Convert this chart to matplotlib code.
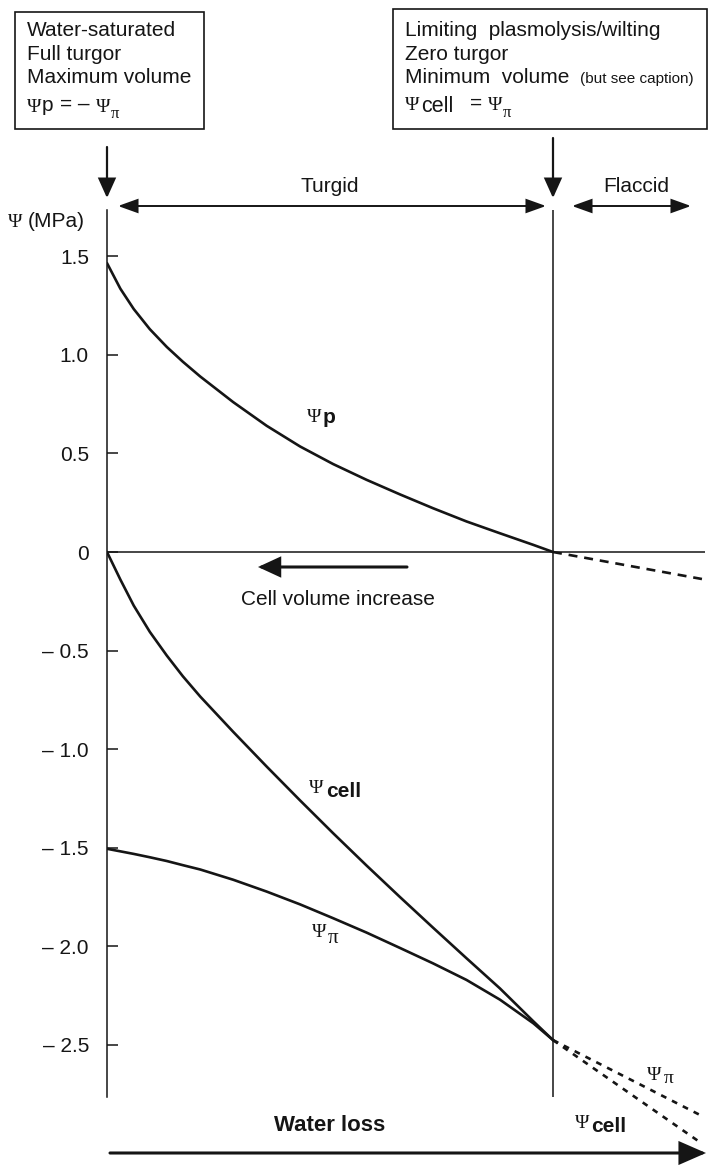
import matplotlib
matplotlib.use("Agg")
import matplotlib.pyplot as plt
import matplotlib.transforms as mtransforms
from matplotlib.patches import Rectangle, FancyArrowPatch

plt.rcParams['font.family'] = ['Liberation Sans', 'DejaVu Sans']

# ---------------- data (relative water loss, 0 = full turgor, 1 = zero turgor) -----
x_turgid = [0.0, 0.03, 0.06, 0.096, 0.134, 0.17, 0.209, 0.283, 0.358, 0.433, 0.507,
            0.582, 0.657, 0.731, 0.806, 0.881, 0.956, 1.0]
psi_p = [1.465, 1.335, 1.232, 1.13, 1.04, 0.965, 0.89, 0.76, 0.64, 0.535, 0.446,
         0.366, 0.292, 0.222, 0.155, 0.095, 0.036, 0.0]
psi_cell = [0.0, -0.14, -0.272, -0.405, -0.525, -0.63, -0.733, -0.912, -1.088, -1.26,
            -1.426, -1.59, -1.75, -1.905, -2.06, -2.213, -2.38, -2.475]
psi_pi = [-1.505, -1.518, -1.531, -1.548, -1.567, -1.588, -1.61, -1.662, -1.722, -1.787,
          -1.857, -1.93, -2.008, -2.086, -2.17, -2.27, -2.39, -2.475]

x_flaccid = [1.0, 1.334]
psi_p_ext = [0.0, -0.137]
psi_pi_ext = [-2.475, -2.86]
psi_cell_ext = [-2.475, -3.0]

yticks = [1.5, 1.0, 0.5, 0.0, -0.5, -1.0, -1.5, -2.0, -2.5]
ytick_labels = ['1.5', '1.0', '0.5', '0', '\u2013 0.5', '\u2013 1.0', '\u2013 1.5',
                '\u2013 2.0', '\u2013 2.5']

# ---------------- figure ----------------
W, H = 711, 1167
fig = plt.figure(figsize=(W / 100, H / 100), dpi=100)
fig.patch.set_facecolor('white')
T = mtransforms.Affine2D().scale(1 / W, -1 / H).translate(0, 1) + fig.transFigure

INK = '#151515'
AX_L, AX_R, AX_T, AX_B = 107, 705, 210, 1097
ZERO_PX, PX_PER_UNIT, PX_PER_X = 552, 197.2, 446.0

ax = fig.add_axes([AX_L / W, 1 - AX_B / H, (AX_R - AX_L) / W, (AX_B - AX_T) / H])
ax.set_xlim(0, (AX_R - AX_L) / PX_PER_X)
ax.set_ylim((ZERO_PX - AX_B) / PX_PER_UNIT, (ZERO_PX - AX_T) / PX_PER_UNIT)
ax.set_facecolor('none')
for s in ['top', 'right', 'bottom']:
    ax.spines[s].set_visible(False)
ax.spines['left'].set_linewidth(1.1)
ax.spines['left'].set_color(INK)
ax.set_xticks([])
ax.set_yticks(yticks)
ax.set_yticklabels(ytick_labels)
ax.tick_params(axis='y', direction='in', length=8, width=1.1, pad=13,
               labelsize=15, colors=INK)

ax.axhline(0, color=INK, lw=1.1)
ax.axvline(1.0, color=INK, lw=1.1)

lw = 1.9
ax.plot(x_turgid, psi_p, color=INK, lw=lw, solid_capstyle='round', solid_joinstyle='round')
ax.plot(x_turgid, psi_cell, color=INK, lw=lw, solid_capstyle='round', solid_joinstyle='round')
ax.plot(x_turgid, psi_pi, color=INK, lw=lw, solid_capstyle='round', solid_joinstyle='round')
ax.plot(x_flaccid, psi_p_ext, color=INK, lw=lw, dashes=(3.4, 2.6), clip_on=False)
ax.plot(x_flaccid, psi_pi_ext, color=INK, lw=lw, dashes=(2.2, 2.4), clip_on=False)
ax.plot(x_flaccid, psi_cell_ext, color=INK, lw=lw, dashes=(2.2, 2.4), clip_on=False)


# ---------------- annotations (figure pixel coordinates) ----------------
def txt(x, y, s, size=15, ha='left', va='baseline', serif=False, **kw):
    fam = ['Liberation Serif', 'DejaVu Serif'] if serif else ['Liberation Sans', 'DejaVu Sans']
    fig.text(x, y, s, transform=T, fontsize=size, ha=ha, va=va, family=fam,
             color=INK, **kw)


def arrow(p0, p1, style, lw_, hl, hw):
    a = FancyArrowPatch(p0, p1, transform=T,
                        arrowstyle=f'{style},head_length={hl},head_width={hw}',
                        lw=lw_, color=INK, mutation_scale=1,
                        shrinkA=0, shrinkB=0, joinstyle='miter')
    fig.add_artist(a)


# boxes
fig.add_artist(Rectangle((15, 12), 189, 117, transform=T, fill=False, lw=1.2, ec=INK))
fig.add_artist(Rectangle((393, 9), 314, 120, transform=T, fill=False, lw=1.2, ec=INK))

txt(27, 36, 'Water-saturated')
txt(27, 60, 'Full turgor')
txt(27, 83, 'Maximum volume')
txt(27, 112, '\u03a8', size=14, serif=True)
txt(42, 111, 'p')
txt(60, 110, '= \u2013')
txt(96, 112, '\u03a8', size=14, serif=True)
txt(111, 118, '\u03c0', size=12, serif=True)

txt(405, 36, 'Limiting  plasmolysis/wilting')
txt(405, 60, 'Zero turgor')
txt(405, 83, 'Minimum  volume')
txt(580, 83, '(but see caption)', size=11)
txt(405, 110, '\u03a8', size=14, serif=True)
txt(421, 112, 'cell', size=15.5)
txt(470, 109, '=')
txt(488, 110, '\u03a8', size=14, serif=True)
txt(503, 117, '\u03c0', size=12, serif=True)

# down arrows
arrow((107, 147), (107, 198), '-|>', 1.6, 12, 5.4)
arrow((553, 138), (553, 198), '-|>', 1.6, 12, 5.4)

# region arrows
arrow((118, 206), (546, 206), '<|-|>', 1.4, 12, 4.3)
arrow((572, 206), (691, 206), '<|-|>', 1.4, 12, 4.3)
txt(330, 192, 'Turgid', ha='center')
txt(636, 192, 'Flaccid', ha='center')

# axis label
txt(8, 227, '\u03a8', size=14, serif=True)
txt(28, 227, '(MPa)')

# curve labels
txt(307, 422, '\u03a8', size=14, serif=True)
txt(323, 423, 'p', weight='bold')
txt(309, 793, '\u03a8', size=14, serif=True)
txt(326, 797, 'cell', weight='bold')
txt(312, 937, '\u03a8', size=14, serif=True)
txt(328, 943, '\u03c0', size=15, serif=True)
txt(647, 1080, '\u03a8', size=14, serif=True)
txt(664, 1083, '\u03c0', size=14, serif=True)
txt(575, 1128, '\u03a8', size=14, serif=True)
txt(591, 1132, 'cell', weight='bold')

# cell volume increase
arrow((407, 567), (258, 567), '-|>', 2.2, 13, 6)
txt(338, 605, 'Cell volume increase', ha='center')

# water loss
arrow((110, 1153), (706, 1153), '-|>', 2.2, 16, 7)
txt(330, 1131, 'Water loss', size=16, ha='center', weight='bold')

fig.savefig('out.png', dpi=100, facecolor='white')
